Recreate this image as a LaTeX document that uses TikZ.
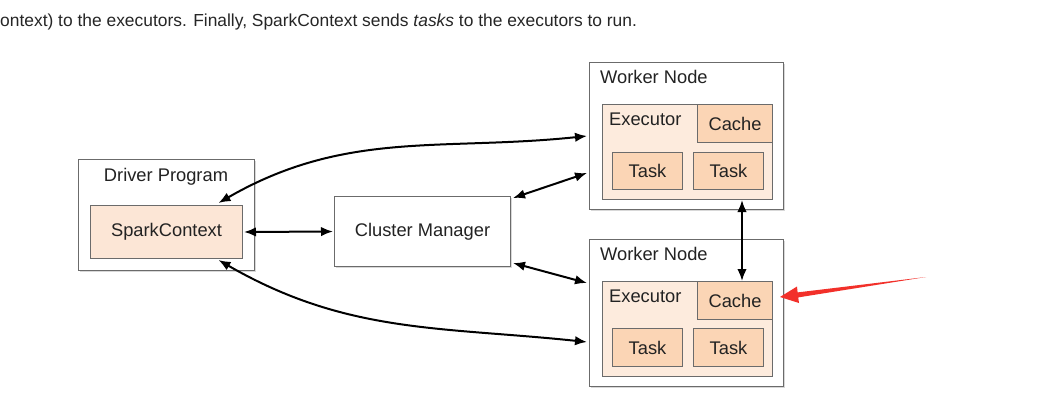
\documentclass[tikz,border=0pt]{standalone}
\usepackage{fontspec}
\setmainfont{Liberation Sans}
\usetikzlibrary{arrows.meta,shadows,calc}
\definecolor{bordergray}{HTML}{6B6B6B}
\definecolor{execfill}{HTML}{FDEBDD}
\definecolor{taskfill}{HTML}{FBD5B5}
\definecolor{scfill}{HTML}{FCE6D6}
\definecolor{txt}{HTML}{222222}
\definecolor{redarrow}{HTML}{F2302A}
\begin{document}
\begin{tikzpicture}[x=1pt,y=-1pt,
  box/.style={draw=bordergray, line width=1pt, inner sep=0pt, anchor=north west, text=txt, font=\fontsize{18.3}{20}\selectfont},
  outer/.style={box, fill=white, drop shadow={opacity=0.3,shadow xshift=1.5pt,shadow yshift=-1.5pt}},
  lab/.style={anchor=base west, inner sep=0pt, text=txt, font=\fontsize{18.3}{20}\selectfont},
  conn/.style={line width=2pt, {Latex[length=12pt,width=9.5pt]}-{Latex[length=12pt,width=9.5pt]}},
]
\useasboundingbox (0,0) rectangle (1064,415);
\fill[white] (0,0) rectangle (1064,415);

\node[anchor=base west, inner sep=0pt, text=black!85, font=\fontsize{17.4}{19}\selectfont] (intro) at (0,26) {ontext) to the executors. Finally, SparkContext sends \textit{tasks} to the executors to run.};

% Driver program
\node[outer, minimum width=176pt, minimum height=111pt] (dp) at (78,159) {};
\node[lab, anchor=base] (dpt) at (166,181) {Driver Program};
\node[box, fill=scfill, minimum width=152pt, minimum height=53pt] (sc) at (90,205) {SparkContext};

% Cluster manager
\node[outer, minimum width=176pt, minimum height=70pt] (cm) at (334,196) {Cluster Manager};

% Worker 1
\node[outer, minimum width=194pt, minimum height=147pt] (w1) at (589,62) {};
\node[lab] (w1t) at (600,83) {Worker Node};
\node[box, fill=execfill, minimum width=170pt, minimum height=95pt] (e1) at (602,104) {};
\node[lab] (e1t) at (609,125) {Executor};
\node[box, fill=taskfill, minimum width=75pt, minimum height=38pt] (c1) at (697,104) {Cache};
\node[box, fill=taskfill, minimum width=70pt, minimum height=37pt] (t11) at (612,152) {Task};
\node[box, fill=taskfill, minimum width=70pt, minimum height=37pt] (t12) at (693,152) {Task};

% Worker 2
\node[outer, minimum width=194pt, minimum height=147pt] (w2) at (589,239) {};
\node[lab] (w2t) at (600,260) {Worker Node};
\node[box, fill=execfill, minimum width=170pt, minimum height=95pt] (e2) at (602,281) {};
\node[lab] (e2t) at (609,302) {Executor};
\node[box, fill=taskfill, minimum width=75pt, minimum height=38pt] (c2) at (697,281) {Cache};
\node[box, fill=taskfill, minimum width=70pt, minimum height=38pt] (t21) at (612,328) {Task};
\node[box, fill=taskfill, minimum width=70pt, minimum height=38pt] (t22) at (693,328) {Task};

% connectors
\draw[conn] ([xshift=1pt]sc.east) -- ([xshift=-1pt]cm.west);
\draw[conn] ([xshift=2pt,yshift=-2pt]cm.north east) -- ([xshift=-2pt,yshift=-37pt]w1.west);
\draw[conn] ([xshift=2pt,yshift=4pt]cm.south east) -- ([xshift=-2pt,yshift=30pt]w2.west);
\draw[conn] ([xshift=52pt,yshift=2pt]sc.north) to[out=30,in=186] ([xshift=-2pt,yshift=0pt]w1.west);
\draw[conn] ([xshift=52pt,yshift=-1pt]sc.south) to[out=-30,in=174] ([xshift=-2pt,yshift=-29pt]w2.west);
\draw[conn] ([xshift=7pt]c2.north) -- ([xshift=7pt]c2.north |- e1.south);

% red arrow
\fill[redarrow] (780,297) -- (797,286.5) -- (797.6,292.4) -- (926,277) -- (798.2,297.4) -- (799,303) -- cycle;
\end{tikzpicture}
\end{document}
